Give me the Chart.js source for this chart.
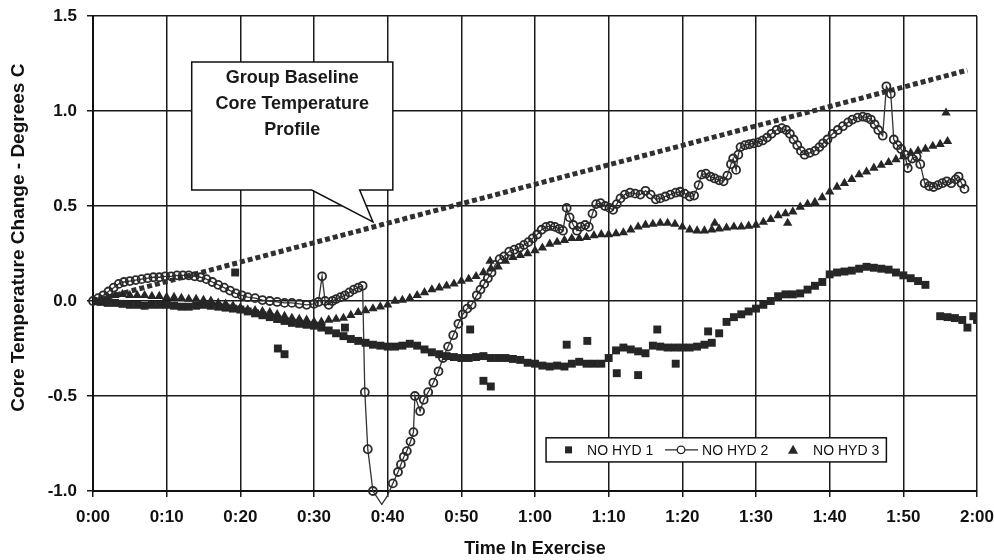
<!DOCTYPE html>
<html>
<head>
<meta charset="utf-8">
<script src="https://cdn.jsdelivr.net/npm/chart.js@4.4.1/dist/chart.umd.min.js"></script>
<style>
  html, body { margin: 0; padding: 0; background: #fff; }
  #wrap { width: 994px; height: 560px; overflow: hidden; }
  #canvas { display: block; }
</style>
</head>
<body>
<div id="wrap"><canvas id="canvas" width="1012" height="560"></canvas></div>
<script>
// time in exercise (minutes), core temperature change (deg C)
var hyd1 = [
    [0, 0], [1, -0.005], [2, -0.01], [3, -0.01], [4, -0.015], [5, -0.02], [6, -0.02], [7, -0.025],
    [8, -0.02], [9, -0.02], [10, -0.02], [11, -0.025], [12, -0.03], [13, -0.03], [14, -0.025],
    [15, -0.02], [16, -0.025], [17, -0.03], [18, -0.035], [19, -0.04], [20, -0.045], [21, -0.055],
    [22, -0.065], [23, -0.075], [24, -0.085], [25, -0.095], [26, -0.105], [27, -0.115], [28, -0.12],
    [29, -0.125], [30, -0.13], [31, -0.14], [32, -0.155], [33, -0.17], [34, -0.185], [35, -0.2],
    [36, -0.21], [37, -0.22], [38, -0.23], [39, -0.235], [40, -0.24], [41, -0.24], [42, -0.235],
    [43, -0.225], [44, -0.235], [45, -0.255], [46, -0.27], [47, -0.28], [48, -0.29], [49, -0.295],
    [50, -0.3], [51, -0.3], [52, -0.295], [53, -0.29], [54, -0.3], [55, -0.3], [56, -0.3],
    [57, -0.305], [58, -0.31], [59, -0.325], [60, -0.33], [61, -0.34], [62, -0.345], [63, -0.34],
    [64, -0.345], [65, -0.33], [66, -0.32], [67, -0.33], [68, -0.33], [69, -0.33], [70, -0.3],
    [71, -0.26], [72, -0.245], [73, -0.255], [74, -0.265], [75, -0.275], [76, -0.235], [77, -0.24],
    [78, -0.245], [79, -0.245], [80, -0.245], [81, -0.245], [82, -0.24], [83, -0.23], [84, -0.22],
    [85, -0.17], [86, -0.11], [87, -0.085], [88, -0.07], [89, -0.055], [90, -0.04], [91, -0.02],
    [92, 0], [93, 0.025], [94, 0.035], [95, 0.035], [96, 0.04], [97, 0.06], [98, 0.08], [99, 0.1],
    [100, 0.14], [101, 0.15], [102, 0.155], [103, 0.16], [104, 0.17], [105, 0.18], [106, 0.175],
    [107, 0.17], [108, 0.165], [109, 0.15], [110, 0.135], [111, 0.12], [112, 0.105], [113, 0.085],
    [115, -0.08], [116, -0.085], [117, -0.09], [118, -0.1], [118.7, -0.14], [119.5, -0.08], [120, -0.1]
];
var hyd1Stray = [
    [19.3, 0.15], [25.1, -0.25], [26, -0.28], [34.2, -0.14], [51.2, -0.15], [53, -0.42], [54, -0.45],
    [64.3, -0.23], [67.1, -0.21], [71.1, -0.38], [74, -0.39], [76.6, -0.15], [79.1, -0.33], [83.5, -0.16]
];
var hyd2 = [
    [0, 0], [0.7, 0.015], [1.4, 0.03], [2.1, 0.05], [2.8, 0.07], [3.5, 0.09], [4.2, 0.1], [5, 0.105],
    [5.8, 0.11], [6.6, 0.115], [7.4, 0.12], [8.2, 0.125], [9, 0.125], [9.8, 0.13], [10.6, 0.13],
    [11.4, 0.135], [12.2, 0.135], [13, 0.135], [13.8, 0.13], [14.6, 0.125], [15.4, 0.115], [16.2, 0.1],
    [17, 0.085], [17.8, 0.07], [18.6, 0.055], [19.4, 0.04], [20.2, 0.03], [21, 0.02], [22, 0.015],
    [23, 0.005], [24, 0], [25, -0.005], [26, -0.01], [27, -0.01], [28, -0.015], [29, -0.02],
    [30, -0.015], [30.6, -0.005], [31.1, 0.13], [31.5, 0], [32, -0.02], [32.5, 0], [33, 0.01],
    [33.6, 0.02], [34.2, 0.03], [34.8, 0.045], [35.4, 0.06], [36, 0.07], [36.6, 0.08],
    [36.9, -0.48], [37.3, -0.78], [38, -1.0], [39.2, -1.07], [39.9, -1.03], [40.7, -0.96],
    [41.4, -0.9], [41.8, -0.86], [42.2, -0.82], [42.6, -0.79], [43.1, -0.74], [43.5, -0.69],
    [43.7, -0.5], [44.4, -0.58], [44.9, -0.52], [45.5, -0.48], [46.2, -0.43], [46.9, -0.37],
    [47.5, -0.3], [48.2, -0.24], [48.9, -0.18], [49.6, -0.12], [50.2, -0.07], [50.8, -0.04],
    [51.4, -0.02], [52.1, 0.03], [52.6, 0.06], [53.1, 0.09], [53.6, 0.12], [54.1, 0.15], [54.6, 0.19],
    [55.2, 0.22], [55.8, 0.235], [56.5, 0.26], [57.2, 0.27], [57.9, 0.28], [58.5, 0.295], [59.1, 0.31],
    [59.7, 0.33], [60.3, 0.35], [60.9, 0.375], [61.5, 0.39], [62.1, 0.395], [62.7, 0.39], [63.3, 0.38],
    [63.8, 0.37], [64.3, 0.49], [64.7, 0.44], [65.2, 0.4], [65.7, 0.37], [66.2, 0.39], [66.8, 0.4],
    [67.3, 0.39], [67.8, 0.46], [68.3, 0.51], [68.9, 0.515], [69.5, 0.5], [70.1, 0.49], [70.6, 0.48],
    [71.1, 0.51], [71.6, 0.54], [72.2, 0.56], [72.9, 0.57], [73.6, 0.565], [74.3, 0.56], [75, 0.58],
    [75.7, 0.56], [76.4, 0.535], [77, 0.54], [77.7, 0.55], [78.4, 0.56], [79.1, 0.57], [79.7, 0.575],
    [80.3, 0.565], [81, 0.55], [81.6, 0.555], [82.2, 0.61], [82.6, 0.665], [83.2, 0.67], [83.8, 0.655],
    [84.4, 0.645], [85, 0.635], [85.6, 0.63], [86.1, 0.66], [86.6, 0.72], [86.9, 0.75], [87.3, 0.69],
    [87.6, 0.77], [87.9, 0.81], [88.5, 0.82], [89.1, 0.825], [89.7, 0.83], [90.3, 0.835], [90.9, 0.845],
    [91.5, 0.86], [92.1, 0.88], [92.8, 0.9], [93.5, 0.91], [94.1, 0.9], [94.6, 0.88], [95.1, 0.85],
    [95.6, 0.82], [96.1, 0.79], [96.6, 0.77], [97.3, 0.78], [98, 0.79], [98.6, 0.81], [99.1, 0.83],
    [99.7, 0.85], [100.4, 0.88], [101.1, 0.9], [101.8, 0.92], [102.5, 0.94], [103.1, 0.955],
    [103.8, 0.965], [104.5, 0.97], [105.1, 0.965], [105.6, 0.955], [106.1, 0.93], [106.6, 0.9],
    [107.2, 0.87], [107.7, 1.13], [108.3, 1.09], [108.7, 0.85], [109.2, 0.82], [109.7, 0.8],
    [110.2, 0.77], [110.6, 0.7], [111.2, 0.75], [111.8, 0.76], [112.3, 0.72], [112.9, 0.62],
    [113.5, 0.605], [114.1, 0.6], [114.7, 0.61], [115.3, 0.62], [115.9, 0.63], [116.5, 0.62],
    [117.1, 0.64], [117.5, 0.655], [117.9, 0.62], [118.3, 0.59]
];
var hyd3 = [
    [0, 0], [1, 0.01], [2, 0.02], [3, 0.03], [4, 0.035], [5, 0.03], [6, 0.03], [7, 0.03], [8, 0.025],
    [9, 0.025], [10, 0.02], [11, 0.02], [12, 0.015], [13, 0.01], [14, 0.01], [15, 0.005], [16, 0],
    [17, -0.01], [18, -0.015], [19, -0.025], [20, -0.035], [21, -0.045], [22, -0.05], [23, -0.055],
    [24, -0.06], [25, -0.07], [26, -0.08], [27, -0.09], [28, -0.095], [29, -0.1], [30, -0.11],
    [31, -0.11], [32, -0.1], [33, -0.095], [34, -0.09], [35, -0.075], [36, -0.06], [37, -0.05],
    [38, -0.04], [39, -0.03], [40, -0.02], [41, 0], [42, 0.005], [43, 0.015], [44, 0.03], [45, 0.045],
    [46, 0.06], [47, 0.07], [48, 0.08], [49, 0.09], [50, 0.105], [51, 0.115], [52, 0.13], [53, 0.15],
    [54, 0.17], [55, 0.18], [56, 0.21], [57, 0.23], [58, 0.24], [59, 0.25], [60, 0.265], [61, 0.28],
    [62, 0.3], [63, 0.31], [64, 0.32], [65, 0.33], [66, 0.33], [67, 0.335], [68, 0.345], [69, 0.35],
    [70, 0.35], [71, 0.355], [72, 0.36], [73, 0.375], [74, 0.39], [75, 0.4], [76, 0.405], [77, 0.41],
    [78, 0.41], [79, 0.405], [80, 0.39], [81, 0.375], [82, 0.37], [83, 0.37], [84, 0.375], [85, 0.38],
    [86, 0.385], [87, 0.39], [88, 0.39], [89, 0.395], [90, 0.4], [91, 0.415], [92, 0.43], [93, 0.45],
    [94, 0.46], [95, 0.47], [96, 0.495], [97, 0.51], [98, 0.52], [99, 0.545], [100, 0.575], [101, 0.6],
    [102, 0.62], [103, 0.64], [104, 0.665], [105, 0.68], [106, 0.7], [107, 0.715], [108, 0.73],
    [109, 0.745], [110, 0.76], [111, 0.78], [112, 0.79], [113, 0.8], [114, 0.815], [115, 0.825], [116, 0.84]
];
var hyd3Stray = [[53.9, 0.21], [84.4, 0.41], [94.3, 0.41], [115.8, 0.99]];
var baseline = [[0, 0], [118.7, 1.215]];

var seriesNames = ['NO HYD 1', 'NO HYD 2', 'NO HYD 3'];
var calloutText = ['Group Baseline', 'Core Temperature', 'Profile'];

var INK = '#262626';
var FONT = '"Liberation Sans", Arial, Helvetica, sans-serif';

function pts(list) {
    return list.map(function (p) { return { x: p[0], y: p[1] }; });
}

function clock(v) {
    var m = v % 60;
    return Math.floor(v / 60) + ':' + (m < 10 ? '0' : '') + m;
}

// speech-bubble label pointing at the baseline trend
var calloutPlugin = {
    id: 'callout',
    afterDatasetsDraw: function (chart) {
        var ctx = chart.ctx, sx = chart.scales.x, sy = chart.scales.y;
        var l = sx.getPixelForValue(13.4), r = sx.getPixelForValue(40.7);
        var t = sy.getPixelForValue(1.258), b = sy.getPixelForValue(0.584);
        var bl = sx.getPixelForValue(29.7), br = sx.getPixelForValue(36.2);
        var tx = sx.getPixelForValue(38), ty = sy.getPixelForValue(0.416);
        ctx.save();
        ctx.beginPath();
        ctx.moveTo(l, t);
        ctx.lineTo(r, t);
        ctx.lineTo(r, b);
        ctx.lineTo(br, b);
        ctx.lineTo(tx, ty);
        ctx.lineTo(bl, b);
        ctx.lineTo(l, b);
        ctx.closePath();
        ctx.fillStyle = '#fff';
        ctx.fill();
        ctx.lineWidth = 1.5;
        ctx.strokeStyle = '#111';
        ctx.stroke();
        ctx.fillStyle = '#1a1a1a';
        ctx.font = 'bold 18px ' + FONT;
        ctx.textAlign = 'center';
        ctx.textBaseline = 'middle';
        calloutText.forEach(function (line, i) {
            ctx.fillText(line, (l + r) / 2, t + 16 + i * 26);
        });
        ctx.restore();
    }
};

// boxed legend sitting inside the plot
var legendPlugin = {
    id: 'boxLegend',
    afterDatasetsDraw: function (chart) {
        var ctx = chart.ctx, sx = chart.scales.x, sy = chart.scales.y;
        var l = sx.getPixelForValue(61.5), r = sx.getPixelForValue(107.7);
        var t = sy.getPixelForValue(-0.72), b = sy.getPixelForValue(-0.847);
        var cy = (t + b) / 2;
        ctx.save();
        ctx.fillStyle = '#fff';
        ctx.fillRect(l, t, r - l, b - t);
        ctx.lineWidth = 1.5;
        ctx.strokeStyle = '#111';
        ctx.strokeRect(l, t, r - l, b - t);

        ctx.fillStyle = INK;
        ctx.fillRect(l + 19, cy - 3.5, 7, 7);

        ctx.strokeStyle = INK;
        ctx.lineWidth = 1.3;
        ctx.beginPath();
        ctx.moveTo(l + 119, cy);
        ctx.lineTo(l + 131, cy);
        ctx.moveTo(l + 139, cy);
        ctx.lineTo(l + 152, cy);
        ctx.stroke();
        ctx.beginPath();
        ctx.arc(l + 135, cy, 3.8, 0, Math.PI * 2);
        ctx.stroke();

        ctx.beginPath();
        ctx.moveTo(l + 247, cy - 5);
        ctx.lineTo(l + 252, cy + 4);
        ctx.lineTo(l + 242, cy + 4);
        ctx.closePath();
        ctx.fill();

        ctx.fillStyle = '#111';
        ctx.font = '14px ' + FONT;
        ctx.textAlign = 'left';
        ctx.textBaseline = 'middle';
        ctx.fillText(seriesNames[0], l + 41, cy + 1);
        ctx.fillText(seriesNames[1], l + 156, cy + 1);
        ctx.fillText(seriesNames[2], l + 267, cy + 1);
        ctx.restore();
    }
};

new Chart(document.getElementById('canvas'), {
    type: 'scatter',
    data: {
        datasets: [{
                label: seriesNames[0],
                data: pts(hyd1.concat(hyd1Stray)),
                pointStyle: 'rect',
                pointRadius: 5.6,
                backgroundColor: INK,
                borderColor: INK,
                borderWidth: 0,
                order: 1
            }, {
                label: seriesNames[1],
                data: pts(hyd2),
                showLine: true,
                borderColor: '#333',
                borderWidth: 1.3,
                pointStyle: 'circle',
                pointRadius: function (c) { return c.raw && c.raw.y < -1 ? 0 : 4; },
                pointBorderColor: '#2a2a2a',
                pointBorderWidth: 1.8,
                pointBackgroundColor: 'rgba(255,255,255,0)',
                clip: false,
                order: 2
            }, {
                label: seriesNames[2],
                data: pts(hyd3.concat(hyd3Stray)),
                pointStyle: 'triangle',
                pointRadius: 5.4,
                backgroundColor: INK,
                borderColor: INK,
                borderWidth: 0,
                order: 3
            }, {
                label: 'Group Baseline',
                data: pts(baseline),
                showLine: true,
                pointRadius: 0,
                borderColor: '#303030',
                borderWidth: 5,
                borderDash: [5, 3],
                order: 10
            }]
    },
    options: {
        responsive: false,
        animation: false,
        events: [],
        layout: {
            padding: { top: 16, right: 35, left: 0, bottom: 0 }
        },
        plugins: {
            legend: { display: false },
            tooltip: { enabled: false }
        },
        scales: {
            x: {
                type: 'linear',
                min: 0,
                max: 120,
                ticks: {
                    stepSize: 10,
                    padding: 10,
                    color: '#111',
                    font: { family: FONT, size: 17, weight: 'bold' },
                    callback: function (v) { return clock(v); }
                },
                grid: { color: '#1a1a1a', lineWidth: 1.5, tickLength: 6 },
                border: { color: '#111', width: 2 },
                title: {
                    display: true,
                    text: 'Time In Exercise',
                    color: '#111',
                    font: { family: FONT, size: 18, weight: 'bold' },
                    padding: { top: 0, bottom: 0 }
                },
                afterFit: function (s) {
                    s.height = 69;
                    s.paddingLeft = 0;
                    s.paddingRight = 0;
                }
            },
            y: {
                min: -1,
                max: 1.5,
                ticks: {
                    stepSize: 0.5,
                    padding: 10,
                    color: '#111',
                    font: { family: FONT, size: 17, weight: 'bold' },
                    callback: function (v) { return v.toFixed(1); }
                },
                grid: { color: '#1a1a1a', lineWidth: 1.5, tickLength: 6 },
                border: { color: '#111', width: 2 },
                title: {
                    display: true,
                    // leading spaces nudge the rotated title up to where the original sits
                    text: '\u00a0\u00a0\u00a0\u00a0\u00a0\u00a0Core Temperature Change - Degrees C',
                    color: '#111',
                    font: { family: FONT, size: 19, weight: 'bold' },
                    padding: { top: 7, bottom: 0 }
                },
                afterFit: function (s) {
                    s.width = 93;
                    s.paddingTop = 0;
                    s.paddingBottom = 0;
                }
            }
        }
    },
    plugins: [calloutPlugin, legendPlugin]
});
</script>
</body>
</html>
